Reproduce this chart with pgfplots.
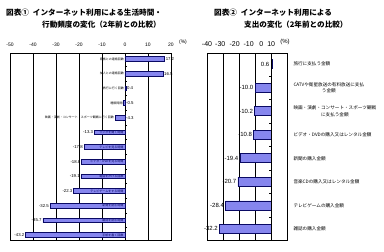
\documentclass[border=0pt]{standalone}
\usepackage{pgfplots}
\pgfplotsset{compat=1.18}
\usepackage{pgfplotstable}
\usepackage{fontspec}
\setmainfont{Liberation Sans}
\newfontfamily\jp{Noto Sans CJK JP}

\definecolor{barfill}{RGB}{134,134,238}
\definecolor{barline}{RGB}{10,10,100}

% time / frequency changes (top row has the largest y)
\pgfplotstableread[col sep=comma]{
y,v,lab
13,17.2,家族との連絡回数
12,16.5,友人との連絡回数
11,0.4,旅行に行く回数
10,-0.5,睡眠時間
9,-4.3,映画・演劇・コンサート・スポーツ観戦に行く回数
8,-13.3,ラジオを聞く時間
7,-17.8,テレビを見る時間
6,-18.8,ビデオ・DVDを見る時間
5,-19.1,電話をかける回数
4,-22.3,テレビゲームをする時間
3,-32.5,新聞を読む時間
2,-35.7,雑誌を読む時間
1,-43.2,手紙を書く回数
}\timetab

% spending changes
\pgfplotstableread[col sep=comma]{
y,v
8,0.6
7,-10.0
6,-10.2
5,-10.8
4,-19.4
3,-20.7
2,-28.4
1,-32.2
}\spendtab

\begin{document}
\begin{tikzpicture}
\useasboundingbox (0pt,0pt) rectangle (384pt,252pt);

% titles
\node[anchor=base west, inner sep=0, font=\jp\bfseries\fontsize{7.6}{8}\selectfont] at (6pt,236pt) {図表①\hspace{4pt}インターネット利用による生活時間・};
\node[anchor=base west, inner sep=0, font=\jp\bfseries\fontsize{7.6}{8}\selectfont] at (42pt,224pt) {行動頻度の変化（2年前との比較）};
\node[anchor=base west, inner sep=0, font=\jp\bfseries\fontsize{7.6}{8}\selectfont] at (214pt,236pt) {図表②\hspace{4pt}インターネット利用による};
\node[anchor=base west, inner sep=0, font=\jp\bfseries\fontsize{7.6}{8}\selectfont] at (244pt,224pt) {支出の変化（2年前との比較）};

% left chart
\begin{axis}[
  at={(10pt,12pt)}, anchor=south west, scale only axis,
  width=161pt, height=187pt,
  xmin=-50, xmax=20, ymin=0.66, ymax=13.41,
  xtick={-50,-40,...,20},
  xticklabels={-50,-40,-30,-20,-10,0,10,20},
  xticklabel pos=upper,
  ytick=\empty,
  xmajorgrids, grid style={black, line width=0.4pt},
  major tick length=0pt,
  axis line style={black, line width=0.5pt},
  xticklabel style={font=\fontsize{5}{6}\selectfont, yshift=2.5pt},
  /pgf/number format/assume math mode=true,
  clip=false,
]
\addplot[xbar, bar width=4.6pt, fill=barfill, draw=barline, line width=0.7pt]
  table[x=v, y=y] {\timetab};
% values of the top five rows, right of the zero line
\addplot[draw=none, mark=none, skip coords between index={5}{13},
  point meta=explicit,
  nodes near coords={\pgfmathprintnumber[fixed,precision=1,fixed zerofill]{\pgfplotspointmeta}},
  nodes near coords style={anchor=west, font=\fontsize{4.3}{5}\selectfont, inner sep=1pt}]
  table[x expr={max(\thisrow{v},0)}, y=y, meta=v] {\timetab};
% values of the remaining rows, left of the bar end
\addplot[draw=none, mark=none, skip coords between index={0}{5},
  point meta=explicit,
  nodes near coords={\pgfmathprintnumber[fixed,precision=1,fixed zerofill]{\pgfplotspointmeta}},
  nodes near coords style={anchor=east, font=\fontsize{4.3}{5}\selectfont, inner sep=1.2pt}]
  table[x=v, y=y, meta=v] {\timetab};
% category names
\addplot[draw=none, mark=none, skip coords between index={5}{13},
  point meta=explicit symbolic, nodes near coords,
  nodes near coords style={anchor=east, font=\jp\fontsize{3}{3.5}\selectfont, inner sep=1pt}]
  table[x expr={min(\thisrow{v},0)}, y=y, meta=lab] {\timetab};
\addplot[draw=none, mark=none, skip coords between index={0}{5},
  point meta=explicit symbolic, nodes near coords,
  nodes near coords style={anchor=east, font=\jp\fontsize{3}{3.5}\selectfont, inner sep=1.5pt, text=barline}]
  table[x expr={0}, y=y, meta=lab] {\timetab};
\pgfplotsinvokeforeach{1.5,2.5,...,12.5}{\draw[line width=0.4pt] (axis cs:0,#1) -- ++(1.6pt,0pt);}
\end{axis}
\node[font=\fontsize{5}{6}\selectfont] at (183pt,210pt) {(\%)};

% right chart
\begin{axis}[
  at={(207pt,12pt)}, anchor=south west, scale only axis,
  width=80pt, height=187pt,
  xmin=-40, xmax=10, ymin=0.53, ymax=8.47,
  xtick={-40,-31.7,-22.7,-14.0,-6.1,0.1},
  xticklabels={-40,-30,-20,-10,0,10},
  xticklabel pos=upper,
  minor xtick={-40,-30,...,10},
  xminorgrids, minor grid style={black, line width=0.4pt},
  ytick={1,...,8},
  yticklabels={雑誌の購入金額, テレビゲームの購入金額, 音楽CDの購入又はレンタル金額, 新聞の購入金額, ビデオ・DVDの購入又はレンタル金額, {映画・演劇・コンサート・スポーツ観戦\\に支払う金額}, {CATVや衛星放送の有料放送に支払\\う金額}, 旅行に支払う金額},
  yticklabel pos=right,
  yticklabel style={anchor=west, align=center, font=\jp\fontsize{4.6}{6.5}\selectfont, xshift=3pt},
  major tick length=0pt, minor tick length=0pt,
  axis line style={black, line width=0.5pt},
  xticklabel style={font=\fontsize{7}{8}\selectfont, yshift=3pt},
  /pgf/number format/assume math mode=true,
  clip=false,
]
\addplot[xbar, bar width=9pt, fill=barfill, draw=barline, line width=0.7pt]
  table[x=v, y=y] {\spendtab};
\addplot[draw=none, mark=none, point meta=explicit,
  nodes near coords={\pgfmathprintnumber[fixed,precision=1,fixed zerofill]{\pgfplotspointmeta}},
  nodes near coords style={anchor=east, font=\fontsize{6}{7}\selectfont, inner sep=1.5pt}]
  table[x expr={min(\thisrow{v},0)}, y=y, meta=v] {\spendtab};
\draw[line width=0.5pt] (axis cs:0,0.53) -- (axis cs:0,8.47);
\pgfplotsinvokeforeach{1.5,2.5,...,7.5}{\draw[line width=0.4pt] (axis cs:0,#1) -- ++(-1.8pt,0pt);}
\end{axis}
\node[font=\fontsize{6}{7}\selectfont] at (285pt,210pt) {(\%)};
\end{tikzpicture}
\end{document}
